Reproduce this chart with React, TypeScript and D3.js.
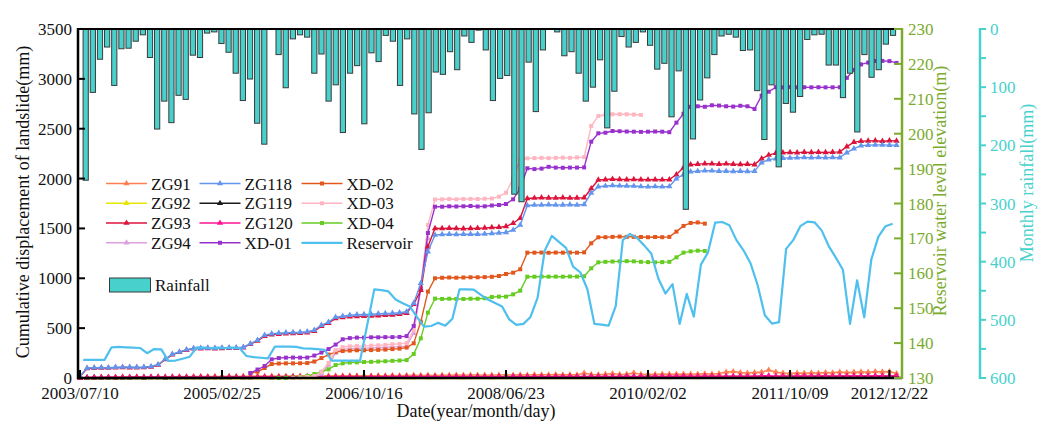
import React from "react";
import * as d3 from "d3";

// ---------- DATA ----------
const tickIdx = [0, 20, 40, 60, 80, 100, 114];
const tickLabels = ["2003/07/10", "2005/02/25", "2006/10/16", "2008/06/23", "2010/02/02", "2011/10/09", "2012/12/22"];

// monthly rainfall (mm), 114 months
const rainfall = [
  260, 109, 52, 31, 97, 34, 33, 21, 10, 49, 172, 124, 161, 114, 121, 45, 49, 7, 5, 25, 40, 76, 123, 86, 162, 198,
  0, 44, 101,
  17, 10, 14, 76, 43, 124, 96, 178, 76, 63, 163, 41, 56, 11, 21, 97, 17, 146, 207, 144, 74, 78, 39, 70, 12, 23, 2, 36, 123,
  85, 80, 284, 297, 57, 142, 36, 0, 5, 46, 39, 76, 124, 100, 53, 170, 107, 13, 31, 23, 5, 28, 69, 59, 151, 72, 310, 189, 122,
  84, 44, 12, 9, 14, 37, 36, 106, 190, 96, 237, 128, 143, 116, 18, 10, 9, 62, 62, 118, 76, 177, 44, 83, 70, 26, 11,
];

// reservoir water level (m), monthly
const reservoir = [
  135.2, 135.2, 135.2, 135.2, 138.8, 138.9, 138.8, 138.7, 138.6, 137.1,
  138.3, 138.2, 134.9, 135.0, 135.5, 136.1, 138.8, 138.7, 138.6, 138.7,
  138.6, 138.7, 138.6, 136.3, 136.0, 135.8, 135.6, 139.0, 139.0, 139.0,
  138.9, 138.5, 138.4, 138.3, 138.1, 135.0, 135.0, 135.0, 135.0, 135.0,
  145.2, 155.4, 155.2, 154.8, 152.5, 151.4, 150.5, 147.5, 144.7, 144.9,
  145.8, 145.0, 147.0, 155.4, 155.4, 155.3, 153.8, 152.5, 151.5, 150.5,
  146.8, 145.2, 145.5, 147.5, 153.0, 166.5, 170.7, 169.0, 167.3, 161.9,
  160.3, 155.5, 145.5, 145.3, 145.0, 150.6, 169.5, 171.3, 170.1, 168.0,
  165.7, 158.5, 154.2, 156.9, 145.5, 154.1, 147.6, 162.5, 166.0, 174.5,
  174.7, 173.8, 169.5, 166.6, 162.8, 156.5, 148.0, 145.6, 146.0, 167.0,
  169.5, 173.5, 174.8, 174.6, 172.3, 167.8, 164.5, 161.0, 145.5, 158.0,
  147.4, 164.0, 170.5, 173.5, 174.2,
];

// cumulative displacement (mm), monthly index
const ZG91 = [
  0, 5, 8, 8, 10, 10, 12, 10, 12, 12, 12, 14, 12, 14, 15, 14, 15, 16, 15, 16,
  16, 18, 16, 18, 18, 20, 18, 20, 18, 20, 20, 22, 20, 22, 22, 24, 22, 22, 24, 22,
  24, 22, 24, 24, 26, 24, 26, 28, 26, 28, 26, 28, 28, 30, 28, 30, 30, 28, 30, 30,
  32, 30, 32, 30, 34, 32, 32, 35, 32, 34, 32, 50, 36, 34, 38, 45, 36, 38, 52, 36,
  38, 36, 40, 38, 38, 40, 38, 40, 42, 40, 45, 60, 65, 55, 50, 55, 60, 80, 60, 50,
  48, 50, 48, 52, 50, 55, 52, 60, 55, 58, 62, 58, 65, 62, 65, 45,
];
const ZG92 = [
  0, 1, 1, 1, 2, 1, 2, 2, 2, 1, 2, 2, 3, 2, 2, 3, 2, 3, 3, 2,
  3, 3, 2, 3, 3, 3, 2, 3, 3, 4, 3, 3, 4, 3, 4, 3, 4, 4, 3, 4,
  4, 4, 3, 4, 4, 5, 4, 4, 5, 4, 5, 4, 5, 5, 4, 5, 5, 5, 4, 5,
  5, 5, 6, 5, 5, 6, 5, 6, 6, 5, 6, 6, 6, 5, 6, 6, 7, 6, 6, 7,
  6, 7, 7, 6, 7, 7, 7, 6, 7, 7, 8, 7, 7, 8, 7, 8, 8, 7, 8, 8,
  8, 7, 8, 8, 9, 8, 8, 9, 8, 9, 9, 8, 9, 9, 9, 8,
];
const ZG119 = [
  0, 2, 3, 3, 4, 3, 4, 4, 5, 4, 5, 5, 4, 5, 5, 6, 5, 6, 6, 5,
  6, 6, 7, 6, 6, 7, 7, 6, 7, 7, 8, 7, 7, 8, 8, 7, 8, 8, 9, 8,
  8, 9, 9, 8, 9, 9, 10, 9, 10, 10, 9, 10, 10, 11, 10, 10, 11, 11, 10, 11,
  11, 12, 11, 11, 12, 12, 11, 12, 12, 13, 12, 12, 13, 13, 12, 13, 13, 14, 13, 13,
  14, 14, 13, 14, 14, 15, 14, 14, 15, 15, 14, 15, 15, 16, 15, 15, 16, 16, 15, 16,
  16, 17, 16, 16, 17, 17, 16, 17, 17, 18, 17, 17, 18, 18, 17, 18,
];
const ZG120 = [
  0, 5, 6, 6, 7, 6, 7, 7, 8, 7, 8, 8, 7, 8, 8, 9, 8, 9, 9, 8,
  9, 9, 10, 9, 9, 10, 10, 9, 10, 10, 11, 10, 10, 11, 11, 10, 11, 11, 12, 11,
  11, 12, 12, 11, 12, 12, 13, 12, 13, 13, 12, 13, 13, 14, 13, 13, 14, 14, 13, 14,
  14, 15, 14, 14, 15, 15, 14, 15, 15, 16, 15, 15, 16, 16, 15, 16, 16, 17, 16, 16,
  17, 17, 16, 17, 17, 18, 17, 17, 18, 18, 17, 18, 18, 19, 18, 18, 22, 24, 19, 20,
  20, 21, 20, 20, 21, 21, 20, 21, 21, 22, 21, 21, 22, 22, 21, 22,
];
const ZG93 = [
  15, 95, 98, 100, 100, 103, 105, 104, 103, 105, 110, 130, 185, 235, 258, 280, 293, 295, 296, 295,
  297, 298, 300, 305, 340, 372, 420, 435, 440, 445, 448, 450, 455, 470, 520, 550, 598, 608, 615, 618,
  620, 622, 625, 630, 632, 640, 650, 740, 880, 1317, 1501, 1500, 1502, 1500, 1498, 1500, 1502, 1505, 1510, 1512,
  1520, 1552, 1602, 1800, 1805, 1808, 1806, 1805, 1808, 1805, 1806, 1808, 1900, 1986, 1990, 1995, 1992, 1990, 1992, 1990,
  1988, 1990, 1988, 1990, 2040, 2110, 2140, 2145, 2150, 2148, 2145, 2148, 2145, 2142, 2145, 2140, 2200, 2236, 2255, 2260,
  2262, 2260, 2265, 2262, 2265, 2262, 2265, 2268, 2320, 2365, 2375, 2378, 2380, 2375, 2380, 2378,
];
const ZG94_START = 33;
const ZG94 = [10, 40, 130, 255, 290, 295, 298, 300, 302, 305, 308, 312, 315, 320, 450, 900, 1400];
const ZG118 = [
  20, 100, 103, 105, 104, 108, 110, 110, 108, 110, 115, 135, 190, 240, 262, 285, 298, 300, 302, 300,
  303, 305, 305, 310, 345, 380, 430, 445, 450, 455, 458, 460, 465, 480, 530, 560, 610, 620, 630, 635,
  638, 640, 645, 648, 650, 655, 665, 750, 950, 1267, 1434, 1440, 1442, 1440, 1442, 1443, 1442, 1445, 1450, 1455,
  1460, 1484, 1534, 1730, 1735, 1735, 1738, 1735, 1736, 1738, 1735, 1740, 1855, 1919, 1925, 1930, 1928, 1926, 1925, 1920,
  1918, 1920, 1918, 1920, 2000, 2040, 2069, 2075, 2080, 2078, 2075, 2075, 2072, 2075, 2072, 2075, 2160, 2190, 2200, 2205,
  2208, 2210, 2212, 2210, 2212, 2210, 2212, 2210, 2260, 2300, 2330, 2335, 2338, 2338, 2335, 2335,
];
const XD01_START = 24;
const XD01 = [
  50, 85, 120, 187, 200, 204, 205, 204, 205, 225, 255, 290, 335, 388, 400, 405, 405, 408, 408, 410,
  410, 412, 420, 522, 900, 1454, 1718, 1718, 1722, 1720, 1722, 1725, 1720, 1722, 1730, 1735, 1745, 1792, 1900, 2103,
  2095, 2100, 2118, 2110, 2108, 2110, 2110, 2112, 2370, 2454, 2460, 2477, 2475, 2472, 2470, 2468, 2470, 2472, 2470, 2465,
  2561, 2650, 2720, 2725, 2720, 2735, 2732, 2725, 2722, 2730, 2725, 2698, 2832, 2871, 2916, 2915, 2918, 2915, 2916, 2915,
  2916, 2915, 2915, 2916, 3010, 3090, 3145, 3163, 3179, 3180, 3178, 3160,
];
const XD02_START = 24;
const XD02 = [
  47, 63, 100, 140, 145, 147, 147, 148, 150, 165, 200, 235, 260, 271, 275, 278, 278, 280, 282, 285,
  290, 295, 305, 348, 565, 866, 1000, 1005, 1008, 1006, 1008, 1010, 1010, 1012, 1015, 1023, 1043, 1056, 1090, 1257,
  1257, 1258, 1256, 1258, 1257, 1258, 1257, 1260, 1351, 1411, 1412, 1415, 1418, 1415, 1416, 1414, 1412, 1414, 1412, 1415,
  1468, 1525, 1555, 1560, 1548,
];
const XD03_START = 30;
const XD03 = [
  0, 5, 10, 20, 60, 150, 280, 310, 318, 320, 322, 325, 328, 332, 338, 342, 350, 481, 933, 1534,
  1790, 1792, 1795, 1792, 1795, 1796, 1795, 1798, 1800, 1818, 1858, 2000, 2190, 2203, 2205, 2208, 2205, 2208, 2210, 2208,
  2212, 2215, 2527, 2628, 2640, 2645, 2645, 2645, 2642, 2638,
];
const XD04_START = 28;
const XD04 = [
  0, 2, 5, 10, 20, 40, 63, 87, 130, 147, 155, 157, 160, 162, 165, 168, 172, 175, 180, 241,
  398, 655, 796, 793, 795, 793, 792, 795, 795, 800, 812, 816, 816, 839, 876, 1016, 1016, 1018, 1016, 1017,
  1016, 1018, 1017, 1020, 1100, 1160, 1165, 1168, 1170, 1172, 1170, 1165, 1162, 1160, 1162, 1165, 1210, 1257, 1270, 1277,
  1274,
];

// ---------- STYLE ----------
const FONT = "'Liberation Serif', 'Times New Roman', serif";
const GREEN = "#7BAB2E";
const TEAL = "#48D1CC";
const RES_COLOR = "#4FBFEE";

type S = { name: string; start: number; values: number[]; color: string; marker: "tri" | "sq" };
const series: S[] = [
  { name: "ZG91", start: 0, values: ZG91, color: "#FF7F50", marker: "tri" },
  { name: "ZG92", start: 0, values: ZG92, color: "#E6E600", marker: "tri" },
  { name: "ZG119", start: 0, values: ZG119, color: "#1A1A1A", marker: "tri" },
  { name: "ZG120", start: 0, values: ZG120, color: "#FF1493", marker: "tri" },
  { name: "ZG94", start: ZG94_START, values: ZG94, color: "#DDA0DD", marker: "tri" },
  { name: "XD-04", start: XD04_START, values: XD04, color: "#66CC22", marker: "sq" },
  { name: "XD-02", start: XD02_START, values: XD02, color: "#E2571E", marker: "sq" },
  { name: "XD-03", start: XD03_START, values: XD03, color: "#FFB6C1", marker: "sq" },
  { name: "XD-01", start: XD01_START, values: XD01, color: "#9932CC", marker: "sq" },
  { name: "ZG93", start: 0, values: ZG93, color: "#DC143C", marker: "tri" },
  { name: "ZG118", start: 0, values: ZG118, color: "#6495ED", marker: "tri" },
];
const colorOf = (n: string) => series.find((s) => s.name === n)!;

const W = 1051, H = 421;
const L = 78, R = 902, T = 29, B = 378;

export default function App() {
  const x = d3.scaleLinear().domain([-0.282, 115.77]).range([L, R]);
  const yD = d3.scaleLinear().domain([0, 3500]).range([B, T]);
  const yRes = d3.scaleLinear().domain([130, 230]).range([B, T]);
  const yRain = d3.scaleLinear().domain([0, 600]).range([T, B]);
  const xBar = d3.scaleLinear().domain([0, rainfall.length - 1]).range([85.7, 893]);
  const barW = 5.2;

  const tri = d3.symbol().type(d3.symbolTriangle).size(17)()!;
  const sq = d3.symbol().type(d3.symbolSquare).size(16)()!;

  const line = d3.line<[number, number]>().x((d) => d[0]).y((d) => d[1]);

  const resPath = line(reservoir.map((v, k) => [x(k + 0.45), yRes(v)]));

  const legendRows = [183.5, 203.3, 223, 242.8];
  const legendCols = [106, 199.5, 301.5];
  const legendItems: string[][] = [
    ["ZG91", "ZG92", "ZG93", "ZG94"],
    ["ZG118", "ZG119", "ZG120", "XD-01"],
    ["XD-02", "XD-03", "XD-04", "Reservoir"],
  ];

  return (
    <svg width={W} height={H} style={{ position: "absolute", left: 0, top: 0, background: "#fff" }} fontFamily={FONT}>
      {/* displacement series */}
      {series.map((s) => {
        const pts: [number, number][] = s.values.map((v, i) => [x(s.start + i), yD(v)]);
        return (
          <g key={s.name}>
            <path d={line(pts)!} fill="none" stroke={s.color} strokeWidth={1.4} />
            {pts.map((p, i) => (
              <path key={i} d={s.marker === "tri" ? tri : sq} transform={`translate(${p[0]},${p[1]})`} fill={s.color} />
            ))}
          </g>
        );
      })}
      {/* reservoir */}
      <path d={resPath!} fill="none" stroke={RES_COLOR} strokeWidth={2.2} strokeLinejoin="round" />

      {/* rainfall bars */}
      {rainfall.map((v, i) => (
        <rect key={i} x={xBar(i) - barW / 2} y={yRain(0)} width={barW} height={Math.max(0, yRain(v) - yRain(0))}
          fill={TEAL} stroke="#3A3A3A" strokeWidth={1} />
      ))}

      {/* frame */}
      <line x1={L} x2={R} y1={T} y2={T} stroke="#000" strokeWidth={2} />
      <line x1={L} x2={L} y1={T - 1} y2={B + 1} stroke="#000" strokeWidth={2.5} />
      <line x1={L} x2={R} y1={B} y2={B} stroke="#000" strokeWidth={2.5} />
      <line x1={R} x2={R} y1={T - 1} y2={B + 1} stroke={GREEN} strokeWidth={2.5} />

      {/* left axis ticks */}
      {d3.range(0, 3501, 500).map((v) => (
        <g key={v}>
          <line x1={L} x2={L + 7} y1={yD(v)} y2={yD(v)} stroke="#000" strokeWidth={2} />
          <text x={72} y={yD(v) + 6} textAnchor="end" fontSize={17} fill="#111">{v}</text>
        </g>
      ))}
      <text transform={`translate(29,202) rotate(-90)`} textAnchor="middle" fontSize={18} fill="#111">
        Cumulative displacement of landslide(mm)
      </text>

      {/* bottom axis */}
      {tickIdx.map((t, i) => (
        <g key={t}>
          <line x1={x(t)} x2={x(t)} y1={B} y2={B - 8} stroke="#000" strokeWidth={2} />
          <text x={x(t)} y={399} textAnchor="middle" fontSize={17} fill="#111">{tickLabels[i]}</text>
        </g>
      ))}
      <text x={476} y={417} textAnchor="middle" fontSize={18} fill="#111">Date(year/month/day)</text>

      {/* reservoir axis */}
      {d3.range(130, 231, 10).map((v) => (
        <g key={v}>
          <line x1={R - 8} x2={R} y1={yRes(v)} y2={yRes(v)} stroke={GREEN} strokeWidth={2} />
          <text x={908} y={yRes(v) + 6} fontSize={17} fill={GREEN}>{v}</text>
        </g>
      ))}
      <text transform={`translate(946,191) rotate(-90)`} textAnchor="middle" fontSize={18} fill={GREEN}>
        Reservoir water level elevation(m)
      </text>

      {/* rainfall axis */}
      <line x1={980} x2={980} y1={T - 1} y2={B + 1} stroke={TEAL} strokeWidth={2.5} />
      {d3.range(0, 601, 50).map((v) => (
        <line key={v} x1={980} x2={986} y1={yRain(v)} y2={yRain(v)} stroke={TEAL} strokeWidth={2} />
      ))}
      {d3.range(0, 601, 100).map((v) => (
        <text key={v} x={990} y={yRain(v) + 6} fontSize={17} fill={TEAL}>{v}</text>
      ))}
      <text transform={`translate(1033,183) rotate(-90)`} textAnchor="middle" fontSize={18} fill={TEAL}>
        Monthly rainfall(mm)
      </text>

      {/* legend */}
      {legendItems.map((col, ci) =>
        col.map((name, ri) => {
          const lx = legendCols[ci];
          const ly = legendRows[ri];
          const isRes = name === "Reservoir";
          const s = isRes ? null : colorOf(name);
          return (
            <g key={name}>
              <line x1={lx} x2={lx + 41} y1={ly} y2={ly} stroke={isRes ? RES_COLOR : s!.color} strokeWidth={isRes ? 2.2 : 1.4} />
              {!isRes && (
                <path d={s!.marker === "tri" ? tri : sq} transform={`translate(${lx + 20.5},${ly})`} fill={s!.color} />
              )}
              <text x={lx + 45} y={ly + 6} fontSize={17} fill="#111">{name}</text>
            </g>
          );
        })
      )}
      <rect x={109.5} y={278} width={41} height={14} fill={TEAL} stroke="#3A3A3A" strokeWidth={1} />
      <text x={155} y={291} fontSize={17} fill="#111">Rainfall</text>
    </svg>
  );
}
